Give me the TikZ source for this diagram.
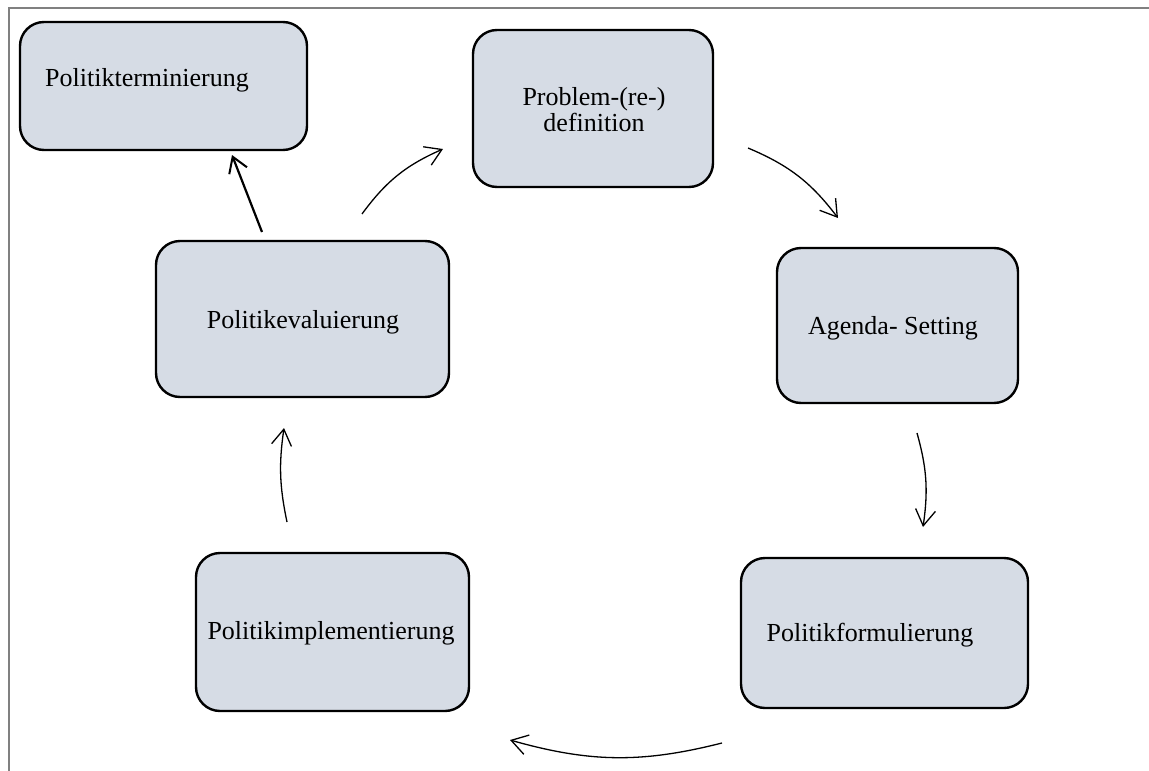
\documentclass[tikz,border=0pt]{standalone}
\usepackage{fontspec}
\setmainfont{Liberation Serif}
\usetikzlibrary{arrows.meta}
\definecolor{boxfill}{RGB}{214,220,229}
\definecolor{framegray}{RGB}{128,128,128}
\tikzset{
  stagebox/.style={draw=black, line width=2.4pt, fill=boxfill, rounded corners=24pt, inner sep=0pt},
  label/.style={font=\fontsize{26}{30}\selectfont, inner sep=0pt, align=center},
  flow/.style={line width=1.3pt, -{Straight Barb[length=16pt,width=20pt,line width=1.3pt]}},
  flowthick/.style={line width=2.2pt, -{Straight Barb[length=15pt,width=19pt,line width=2pt]}}
}
\begin{document}
\begin{tikzpicture}[x=1pt,y=-1pt]
\useasboundingbox (0,0) rectangle (1149,771);
\draw[framegray, line width=2.5pt] (9,771) -- (9,8) -- (1149,8);

\node[stagebox, minimum width=287pt, minimum height=128pt] (term) at (163.5,86) {};
\node[stagebox, minimum width=240pt, minimum height=157pt] (prob) at (593,108.5) {};
\node[stagebox, minimum width=241pt, minimum height=155pt] (agen) at (897.5,325.5) {};
\node[stagebox, minimum width=287pt, minimum height=150pt] (form) at (884.5,633) {};
\node[stagebox, minimum width=273pt, minimum height=158pt] (impl) at (332.5,632) {};
\node[stagebox, minimum width=293pt, minimum height=156pt] (eval) at (302.5,319) {};

\node[label, anchor=west] (tterm) at (45,80) {Politikterminierung};
\node[label] (tprob) at (594,110) {Problem-(re-)\\[-4pt]definition};
\node[label] (tagen) at (893,328) {Agenda- Setting};
\node[label] (tform) at (870,635) {Politikformulierung};
\node[label] (timpl) at (331,633) {Politikimplementierung};
\node[label] (teval) at (303,322) {Politikevaluierung};

\coordinate (a1) at (362,214); \coordinate (a2) at (443,149);
\coordinate (b1) at (748,148); \coordinate (b2) at (838,218);
\coordinate (c1) at (917,433); \coordinate (c2) at (923,527);
\coordinate (d1) at (722,743); \coordinate (d2) at (510,740);
\coordinate (e1) at (287,522); \coordinate (e2) at (284,428);
\coordinate (f1) at (262,232); \coordinate (f2) at (232,155);

\draw[flow] (a1) to[bend left=15] (a2);
\draw[flow] (b1) to[bend left=15] (b2);
\draw[flow] (c1) to[bend left=12] (c2);
\draw[flow] (d1) to[bend left=15] (d2);
\draw[flow] (e1) to[bend left=10] (e2);
\draw[flowthick] (f1) -- (f2);
\end{tikzpicture}
\end{document}
